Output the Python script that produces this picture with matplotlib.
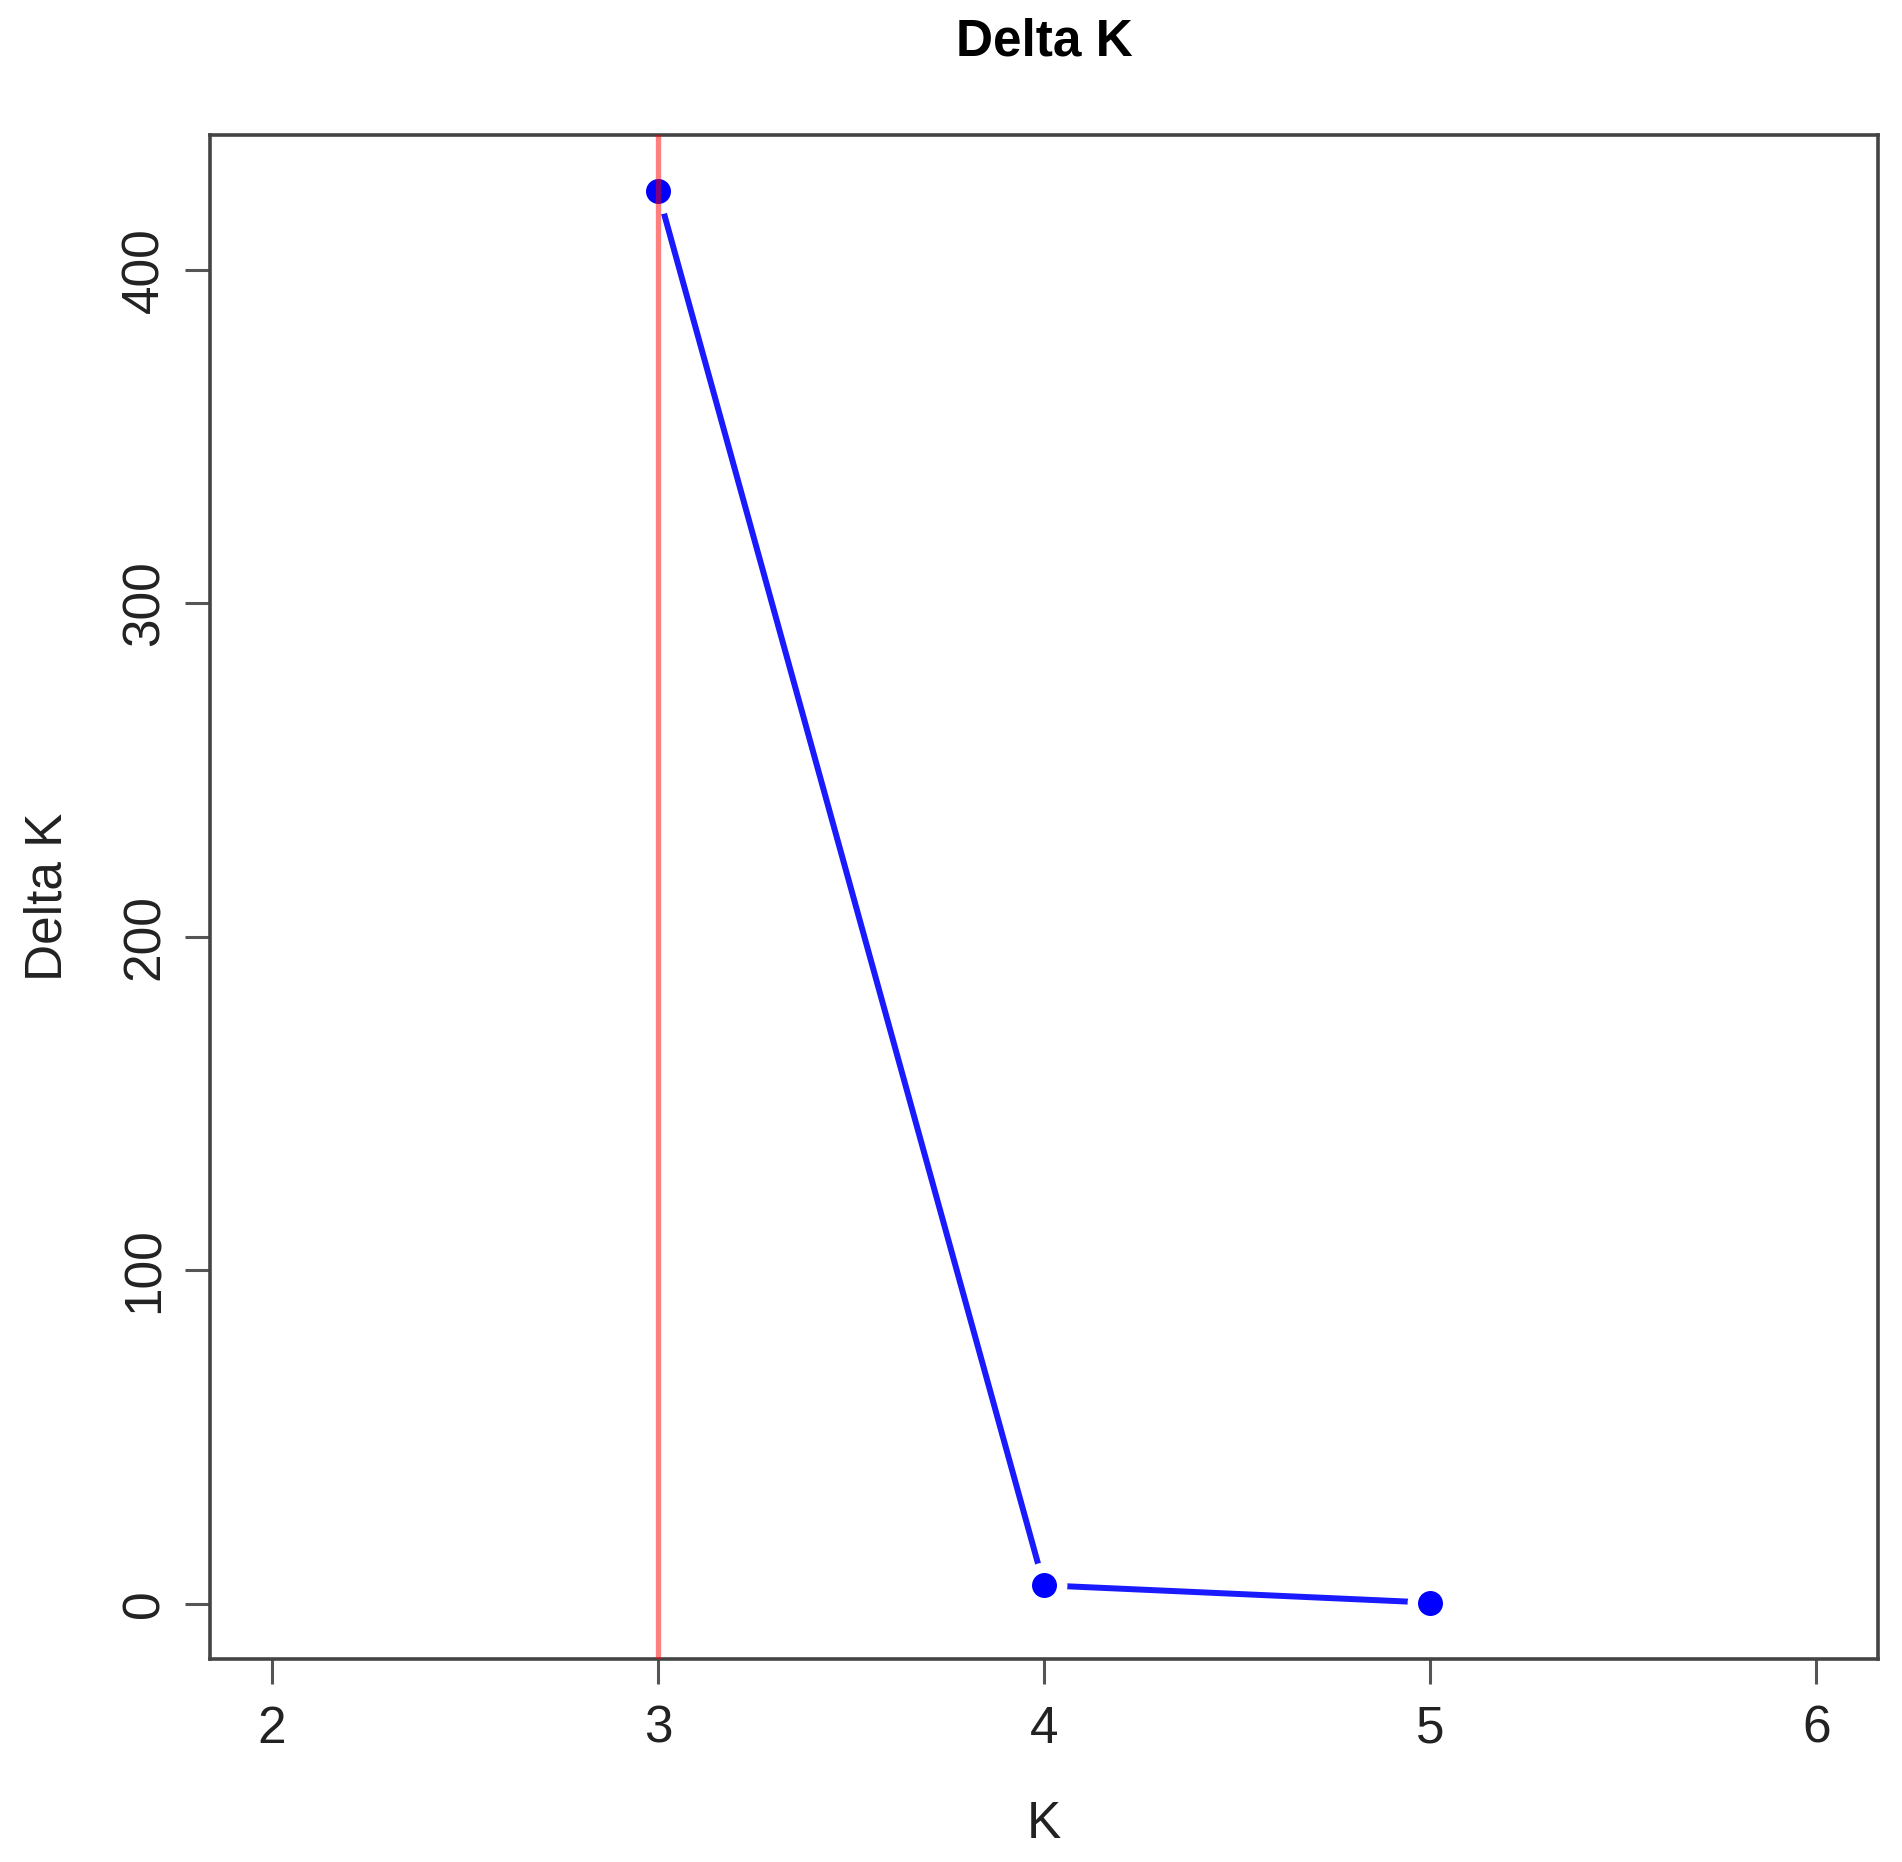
import matplotlib
matplotlib.use("Agg")
import matplotlib.pyplot as plt

# valores
k_valores = [3, 4, 5]
delta_k = [423.5, 5.5, 0.3]
k_melhor = 3
x_ticks = [2, 3, 4, 5, 6]
y_ticks = [0, 100, 200, 300, 400]

plt.rcParams['font.family'] = ['Liberation Sans', 'DejaVu Sans']

fig = plt.figure(figsize=(19.02, 18.62), dpi=100)
ax = fig.add_axes([0.1104, 0.1090, 0.8770, 0.8185])

# tipo "b" do R: linha com espaço em volta dos pontos
ax.plot(k_valores, delta_k, '-', color='#1a1aff', lw=4.3,
        marker='o', markersize=25.5, markerfacecolor='#0000ff',
        markeredgecolor='white', markeredgewidth=7.5, zorder=2)
ax.axvline(k_melhor, color='red', alpha=0.5, lw=3.8, zorder=3)

ax.set_xlim(1.84, 6.16)
faixa = max(delta_k) - min(delta_k)
ax.set_ylim(min(delta_k) - 0.04 * faixa, max(delta_k) + 0.04 * faixa)
ax.set_xticks(x_ticks)
ax.set_yticks(y_ticks)

for s in ax.spines.values():
    s.set_color('#444444')
    s.set_linewidth(2.6)

ax.tick_params(axis='both', length=18, width=2.2, color='#555555',
               labelsize=37, labelcolor='#222222')
ax.tick_params(axis='x', pad=15)
ax.tick_params(axis='y', pad=11)
for lbl in ax.get_yticklabels():
    lbl.set_rotation(90)
    lbl.set_va('center')

ax.set_xlabel('K', fontsize=37, color='#222222', labelpad=33)
ax.set_ylabel('Delta K', fontsize=37, color='#222222', labelpad=35)
ax.set_title('Delta K', fontsize=37, fontweight='bold', pad=57)

fig.savefig('out.png', dpi=100, facecolor='white')
